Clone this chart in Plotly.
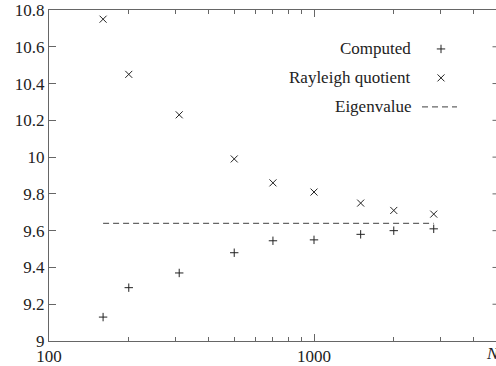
import plotly.graph_objects as go
import math

# Data
N = [160, 200, 310, 500, 700, 1000, 1500, 2000, 2830]
computed = [9.13, 9.29, 9.37, 9.48, 9.545, 9.55, 9.58, 9.60, 9.61]
rayleigh = [10.75, 10.45, 10.23, 9.99, 9.86, 9.81, 9.75, 9.71, 9.69]
EIGEN = 9.64
y_ticks = [9.0, 9.2, 9.4, 9.6, 9.8, 10.0, 10.2, 10.4, 10.6, 10.8]
y_labels = ["9", "9.2", "9.4", "9.6", "9.8", "10", "10.2", "10.4", "10.6", "10.8"]
x_major = [100, 1000]
x_labels = ["100", "1000"]
x_minor = [200, 300, 400, 500, 600, 700, 800, 900, 2000, 3000, 4000]
legend_names = ["Computed", "Rayleigh quotient", "Eigenvalue"]

W, H = 496, 366
L, T, B = 49, 10, 24.5
plot_w = W - L
plot_h = H - T - B
decade = 265.0
FONT = "Liberation Serif, Times New Roman, serif"
AX = "#666666"
INK = "#222222"
FS = 17

fig = go.Figure()

fig.add_trace(go.Scatter(
    x=N, y=computed, mode="markers",
    marker=dict(symbol="cross-thin", size=6, line=dict(width=1, color=INK)),
    showlegend=False))
fig.add_trace(go.Scatter(
    x=N, y=rayleigh, mode="markers",
    marker=dict(symbol="x-thin", size=7, line=dict(width=1, color=INK)),
    showlegend=False))
fig.add_trace(go.Scatter(
    x=[N[0], N[-1]], y=[EIGEN, EIGEN], mode="lines",
    line=dict(color="#666666", width=1.3, dash="6px,4px"),
    showlegend=False))

# legend samples drawn on a pixel-mapped overlay axis
leg_y = [49, 78, 107]
fig.add_trace(go.Scatter(
    x=[441], y=[leg_y[0]], xaxis="x2", yaxis="y2", mode="markers",
    marker=dict(symbol="cross-thin", size=6, line=dict(width=1, color=INK)),
    showlegend=False, hoverinfo="skip"))
fig.add_trace(go.Scatter(
    x=[441], y=[leg_y[1]], xaxis="x2", yaxis="y2", mode="markers",
    marker=dict(symbol="x-thin", size=7, line=dict(width=1, color=INK)),
    showlegend=False, hoverinfo="skip"))
fig.add_trace(go.Scatter(
    x=[422, 457], y=[leg_y[2], leg_y[2]], xaxis="x2", yaxis="y2", mode="lines",
    line=dict(color="#666666", width=1.3, dash="6px,4px"),
    showlegend=False, hoverinfo="skip"))

annotations = []
for name, yy in zip(legend_names, leg_y):
    annotations.append(dict(
        text=name, x=413, y=yy, xref="x2", yref="y2", xanchor="right",
        yanchor="middle", showarrow=False,
        font=dict(family=FONT, size=FS, color=INK)))
annotations.append(dict(
    text="<i>N</i>", x=(484 - L) / plot_w, y=(H - B - 354) / plot_h,
    xref="paper", yref="paper", xanchor="left", yanchor="middle",
    showarrow=False, font=dict(family=FONT, size=FS, color=INK)))

# right-side inward ticks (right axis lies just outside the picture)
shapes = []
for v in y_ticks[1:-1]:
    shapes.append(dict(type="line", xref="paper", yref="y",
                       x0=1 - 3.5 / plot_w, x1=1, y0=v, y1=v,
                       line=dict(color=AX, width=1)))

fig.update_layout(
    width=W, height=H,
    margin=dict(l=L, r=0, t=T, b=B, pad=0),
    paper_bgcolor="white", plot_bgcolor="white",
    font=dict(family=FONT, size=FS, color=INK),
    xaxis=dict(
        type="log", range=[2, 2 + plot_w / decade],
        tickvals=x_major, ticktext=x_labels,
        ticks="inside", ticklen=7, tickwidth=1, tickcolor=AX,
        showline=True, linecolor=AX, linewidth=1, mirror="allticks",
        showgrid=False, zeroline=False,
        minor=dict(tickvals=x_minor, ticks="inside", ticklen=4,
                   tickwidth=1, tickcolor=AX, showgrid=False),
        tickfont=dict(family=FONT, size=FS, color=INK)),
    yaxis=dict(
        range=[9, 10.8], tickvals=y_ticks, ticktext=y_labels,
        ticks="inside", ticklen=7, tickwidth=1, tickcolor=AX,
        showline=True, linecolor=AX, linewidth=1, mirror=False,
        showgrid=False, zeroline=False,
        tickfont=dict(family=FONT, size=FS, color=INK)),
    xaxis2=dict(overlaying="x", range=[L, W], visible=False, anchor="y2"),
    yaxis2=dict(overlaying="y", range=[H - B, T], visible=False, anchor="x2"),
    annotations=annotations,
    shapes=shapes,
)

fig.write_html("out.html")
